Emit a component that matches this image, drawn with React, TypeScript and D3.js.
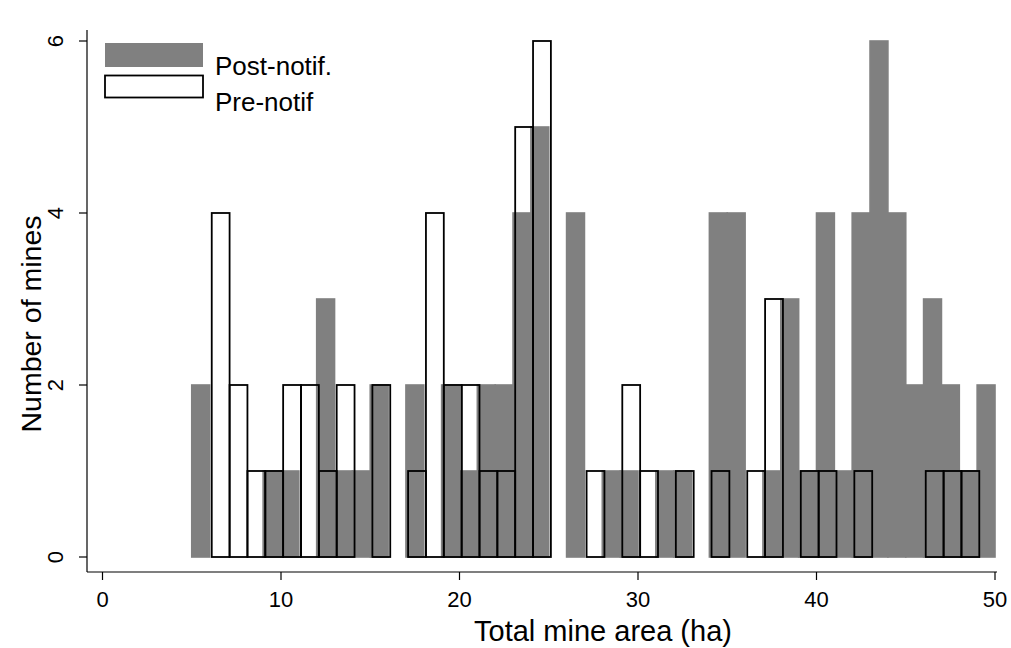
import React from 'react';
import * as d3 from 'd3';

// histogram bins (lower edge, ha) and counts
const postBins = [5, 9, 10, 12, 13, 14, 15, 17, 19, 20, 21, 22, 23, 24, 26, 28, 29, 31, 32, 34, 35, 37, 38, 39, 40, 41, 42, 43, 44, 45, 46, 47, 48, 49];
const postCounts = [2, 1, 1, 3, 1, 1, 2, 2, 2, 1, 2, 2, 4, 5, 4, 1, 1, 1, 1, 4, 4, 1, 3, 1, 4, 1, 4, 6, 4, 2, 3, 2, 1, 2];

const preBins = [6.12, 7.12, 8.12, 9.12, 10.12, 11.12, 12.12, 13.12, 15.12, 17.12, 18.12, 19.12, 20.12, 21.12, 22.12, 23.12, 24.12, 27.12, 29.12, 30.12, 32.12, 34.12, 36.12, 37.12, 39.12, 40.12, 42.12, 46.12, 47.12, 48.12];
const preCounts = [4, 2, 1, 1, 2, 2, 1, 2, 2, 1, 4, 2, 2, 1, 1, 5, 6, 1, 2, 1, 1, 1, 1, 3, 1, 1, 1, 1, 1, 1];

const binWidth = 1;
const xTicks = [0, 10, 20, 30, 40, 50];
const yTicks = [0, 2, 4, 6];
const legendLabels = ['Post-notif.', 'Pre-notif'];

const W = 1011;
const H = 648;
const GRAY = '#808080';
const FONT = '"Liberation Sans", Arial, Helvetica, sans-serif';

export default function App() {
  const x = d3.scaleLinear().domain([0, 50]).range([102.5, 995]);
  const y = d3.scaleLinear().domain([0, 6]).range([557, 41]);
  const axisX = 87;
  const axisY = 572;

  return (
    <svg width={W} height={H} style={{ position: 'absolute', left: 0, top: 0, background: '#fff' }}>
      <rect width={W} height={H} fill="#fff" />

      {/* post-notification bars */}
      {postBins.map((b, i) => (
        <rect
          key={'p' + i}
          x={x(b)}
          y={y(postCounts[i])}
          width={x(b + binWidth) - x(b)}
          height={y(0) - y(postCounts[i])}
          fill={GRAY}
          stroke={GRAY}
          strokeWidth={1.6}
        />
      ))}

      {/* pre-notification outlines */}
      {preBins.map((b, i) => (
        <rect
          key={'q' + i}
          x={x(b)}
          y={y(preCounts[i])}
          width={x(b + binWidth) - x(b)}
          height={y(0) - y(preCounts[i])}
          fill="none"
          stroke="#000"
          strokeWidth={1.8}
        />
      ))}

      {/* y axis */}
      <line x1={axisX} x2={axisX} y1={30} y2={axisY} stroke="#000" strokeWidth={1.2} />
      {yTicks.map((t) => (
        <g key={'yt' + t}>
          <line x1={axisX - 8} x2={axisX} y1={y(t)} y2={y(t)} stroke="#000" strokeWidth={1.2} />
          <text
            transform={`translate(63,${y(t)}) rotate(-90)`}
            textAnchor="middle"
            fontFamily={FONT}
            fontSize={22}
            fill="#000"
          >
            {t}
          </text>
        </g>
      ))}
      <text
        transform={`translate(41,324) rotate(-90)`}
        textAnchor="middle"
        fontFamily={FONT}
        fontSize={28.5}
        fill="#000"
      >
        Number of mines
      </text>

      {/* x axis */}
      <line x1={axisX} x2={997} y1={axisY} y2={axisY} stroke="#000" strokeWidth={1.2} />
      {xTicks.map((t) => (
        <g key={'xt' + t}>
          <line x1={x(t)} x2={x(t)} y1={axisY} y2={axisY + 8} stroke="#000" strokeWidth={1.2} />
          <text x={x(t)} y={607} textAnchor="middle" fontFamily={FONT} fontSize={22} fill="#000">
            {t}
          </text>
        </g>
      ))}
      <text x={603} y={641} textAnchor="middle" fontFamily={FONT} fontSize={29} fill="#000">
        Total mine area (ha)
      </text>

      {/* legend */}
      <rect x={105} y={43} width={98} height={24} fill={GRAY} />
      <rect x={105} y={75.5} width={98} height={22} fill="#fff" stroke="#000" strokeWidth={1.8} />
      <text x={215} y={75} fontFamily={FONT} fontSize={26} fill="#000">
        {legendLabels[0]}
      </text>
      <text x={215} y={111} fontFamily={FONT} fontSize={26} fill="#000">
        {legendLabels[1]}
      </text>
    </svg>
  );
}
